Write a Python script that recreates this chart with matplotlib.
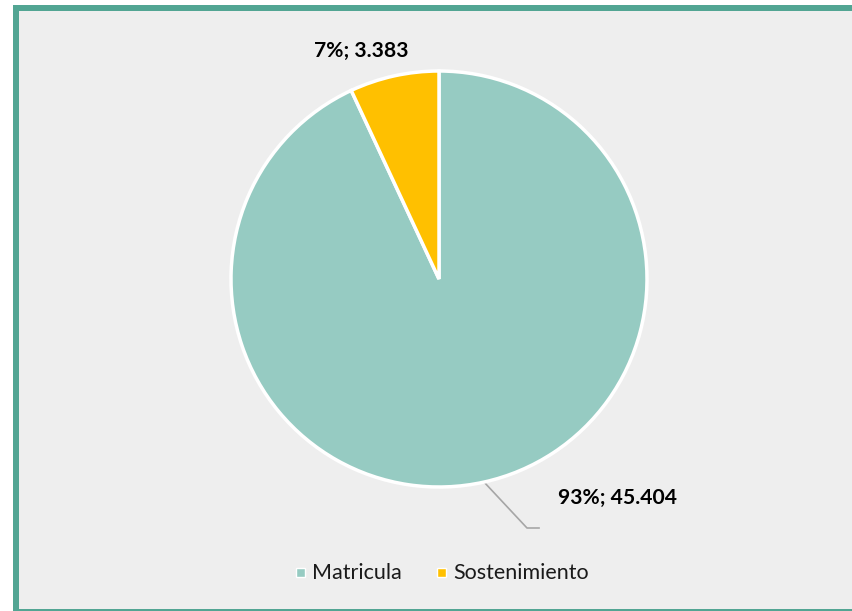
import matplotlib.pyplot as plt
from matplotlib.patches import Rectangle

categories = ['Matricula', 'Sostenimiento']
values = [45404, 3383]
labels = ['93%; 45.404', '7%; 3.383']
colors = ['#96CBC2', '#FFC000']

W, H = 852, 611
fig = plt.figure(figsize=(W / 100, H / 100), dpi=100, facecolor='white')

# background layer in pixel coordinates
bg = fig.add_axes([0, 0, 1, 1])
bg.set_xlim(0, W)
bg.set_ylim(H, 0)
bg.axis('off')
bg.add_patch(Rectangle((13, 5), W - 13, H - 5, facecolor='#52A593', edgecolor='none'))
bg.add_patch(Rectangle((19, 11), W - 19, H - 2 - 11, facecolor='#EEEEEE', edgecolor='none'))

# pie
cx, cy, r = 439, 279, 208
ax = fig.add_axes([(cx - r) / W, 1 - (cy + r) / H, 2 * r / W, 2 * r / H])
ax.pie(values, colors=colors, startangle=90, counterclock=False,
       wedgeprops=dict(edgecolor='white', linewidth=2.5))
ax.set_aspect('equal')
ax.set_xlim(-1, 1)
ax.set_ylim(-1, 1)
ax.axis('off')

# data labels
fnt = 'Lato'
bg.text(361, 51, labels[1], ha='center', va='center', fontsize=15.2, fontweight='bold',
        family=fnt, color='black')
bg.text(617, 498, labels[0], ha='center', va='center', fontsize=15.2, fontweight='bold',
        family=fnt, color='black')
bg.plot([484, 527, 539], [482, 528, 528], color='#A6A6A6', lw=1.2)

# legend
lx = [295, 436]
for i, c in enumerate(categories):
    bg.add_patch(Rectangle((lx[i] + 1, 568), 9, 9, facecolor=colors[i], edgecolor='white', lw=1))
    bg.text(lx[i] + 17, 573, c, ha='left', va='center', fontsize=15.5, family=fnt,
            color='#1a1a1a')

fig.savefig('out.png', dpi=100, facecolor='white')
